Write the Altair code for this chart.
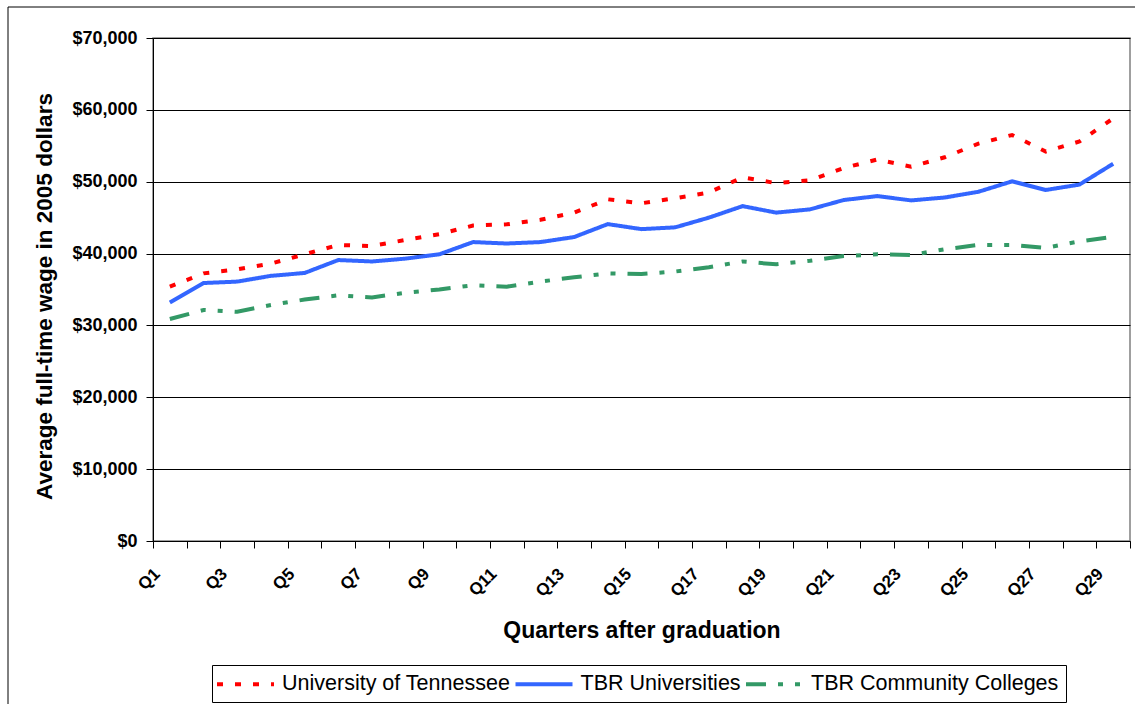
import altair as alt
import pandas as pd

# Quarter categories along the x axis
quarters = [
    "Q1", "Q2", "Q3", "Q4", "Q5", "Q6", "Q7", "Q8", "Q9", "Q10",
    "Q11", "Q12", "Q13", "Q14", "Q15", "Q16", "Q17", "Q18", "Q19", "Q20",
    "Q21", "Q22", "Q23", "Q24", "Q25", "Q26", "Q27", "Q28", "Q29",
]

# Average full-time wage (2005 dollars) by quarter after graduation
ut_wages = [
    35400, 37250, 37800, 38600, 39900, 41200, 41050, 41900, 42700, 43900,
    44070, 44700, 45700, 47550, 47000, 47700, 48500, 50600, 49800, 50200,
    51900, 53100, 52100, 53400, 55300, 56500, 54200, 55600, 58800,
]
tbr_univ_wages = [
    33200, 35900, 36100, 36900, 37300, 39100, 38900, 39300, 39900, 41600,
    41400, 41600, 42300, 44100, 43400, 43650, 45000, 46600, 45700, 46150,
    47450, 48000, 47400, 47800, 48600, 50050, 48850, 49600, 52500,
]
tbr_cc_wages = [
    30900, 32150, 31900, 32850, 33600, 34200, 33900, 34550, 35000, 35600,
    35400, 36100, 36700, 37250, 37150, 37500, 38100, 38900, 38500, 39000,
    39650, 39900, 39800, 40600, 41200, 41200, 40800, 41700, 42350,
]

series_names = ["University of Tennessee", "TBR Universities", "TBR Community Colleges"]
series_colors = ["#FF0000", "#3366FF", "#339966"]
series_dashes = [[6, 12], [1, 0], [20, 12, 5, 12, 5, 12]]

y_ticks = [0, 10000, 20000, 30000, 40000, 50000, 60000, 70000]

rows = []
for name, values in zip(series_names, [ut_wages, tbr_univ_wages, tbr_cc_wages]):
    for q, v in zip(quarters, values):
        rows.append({"quarter": q, "wage": v, "series": name})
df = pd.DataFrame(rows)

FONT = "Liberation Sans"

lines = alt.Chart(df).mark_line(strokeWidth=4, strokeCap="butt").encode(
    x=alt.X(
        "quarter:N",
        sort=quarters,
        scale=alt.Scale(paddingInner=0, paddingOuter=0),
        title="Quarters after graduation",
        axis=alt.Axis(
            tickBand="extent",
            tickSize=7,
            tickColor="black",
            domainColor="black",
            labelAngle=-45,
            labelAlign="right",
            labelBaseline="middle",
            labelOffset=-13,
            labelPadding=23,
            labelFont=FONT,
            labelFontWeight="bold",
            labelFontSize=17,
            labelColor="black",
            labelOverlap=False,
            labelBound=False,
            labelExpr="toNumber(substring(datum.label, 1)) % 2 == 1 ? datum.label : ''",
            titleFont=FONT,
            titleFontWeight="bold",
            titleFontSize=23,
            titleColor="black",
            titleX=488.5,
            titleY=96,
            titleAlign="center",
            titleBaseline="alphabetic",
        ),
    ),
    y=alt.Y(
        "wage:Q",
        scale=alt.Scale(domain=[0, 70000], nice=False, zero=True),
        title="Average full-time wage in 2005 dollars",
        axis=alt.Axis(
            values=y_ticks,
            format="$,.0f",
            grid=True,
            gridColor="black",
            gridWidth=1,
            tickSize=7,
            tickColor="black",
            domainColor="black",
            labelPadding=9,
            labelFont=FONT,
            labelFontWeight="bold",
            labelFontSize=18,
            labelColor="black",
            titleFont=FONT,
            titleFontWeight="bold",
            titleFontSize=22.5,
            titleColor="black",
            titleAngle=-90,
            titleX=-109,
            titleY=258,
            titleAlign="center",
            titleBaseline="middle",
        ),
    ),
    color=alt.Color(
        "series:N",
        sort=series_names,
        scale=alt.Scale(domain=series_names, range=series_colors),
        legend=alt.Legend(title=None),
    ),
    strokeDash=alt.StrokeDash(
        "series:N",
        sort=series_names,
        scale=alt.Scale(domain=series_names, range=series_dashes),
        legend=alt.Legend(title=None),
    ),
)

# Outer frame around the whole chart area
frame = alt.Chart(alt.Data(values=[{}])).mark_rect(
    fill="transparent", stroke="black", strokeWidth=1
).encode(
    x=alt.value(-145), x2=alt.value(1100), y=alt.value(-31), y2=alt.value(800)
)

chart = alt.layer(frame, lines).properties(
    width=977,
    height=503,
    autosize=alt.AutoSizeParams(type="none"),
    padding={"left": 153, "top": 38, "right": 5, "bottom": 163},
    background="white",
).configure_view(
    stroke="#808080", strokeWidth=1.5
).configure_legend(
    orient="none",
    legendX=59,
    legendY=627,
    direction="horizontal",
    # long horizontal line sample, extending to the right of the symbol slot
    symbolType="M-1.4,0H4.3",
    symbolSize=400,
    symbolStrokeWidth=4,
    labelFont=FONT,
    labelFontSize=21.5,
    labelColor="black",
    labelLimit=400,
    labelOffset=39,
    columnPadding=-3.5,
    padding=7,
    strokeColor="black",
    fillColor="white",
)

chart.save("out.html", embed_options={"renderer": "svg", "actions": False})
